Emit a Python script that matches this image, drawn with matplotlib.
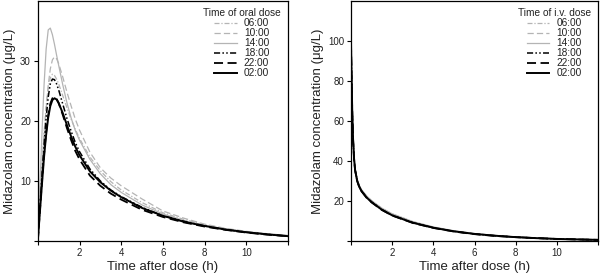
import matplotlib
matplotlib.use("Agg")
import matplotlib.pyplot as plt

plt.rcParams['font.family'] = ['Liberation Sans', 'DejaVu Sans']

# time points (h)
t_oral = [0, 0.1, 0.2, 0.3, 0.4, 0.5, 0.6, 0.7, 0.8, 0.9, 1.0, 1.2, 1.4, 1.6, 1.8,
          2.0, 2.5, 3.0, 3.5, 4.0, 5, 6, 7, 8, 9, 10, 11, 12]

oral_0600 = [0, 6.5, 12.5, 18, 22.5, 25.5, 27.2, 27.8, 27.6, 27.0, 26.2, 24.2, 22.2, 20.3, 18.6,
             17.1, 14.0, 11.7, 9.9, 8.5, 6.4, 4.7, 3.6, 2.7, 2.0, 1.55, 1.15, 0.85]
oral_1000 = [0, 6, 12, 17.5, 22, 26, 28.7, 30.2, 30.7, 30.4, 29.6, 27.3, 24.8, 22.5, 20.3,
             18.5, 14.8, 12.2, 10.5, 9.2, 7.0, 5.0, 3.8, 2.8, 2.1, 1.6, 1.2, 0.9]
oral_1400 = [0, 9, 18, 26, 32, 35.2, 35.5, 34.4, 32.8, 31.0, 29.3, 26.0, 23.0, 20.5, 18.4,
             16.8, 13.6, 11.2, 9.4, 8.1, 6.0, 4.5, 3.4, 2.6, 2.0, 1.55, 1.2, 0.9]
oral_1800 = [0, 5.5, 11, 16, 20.5, 24, 26.2, 27.0, 26.9, 26.2, 25.2, 22.8, 20.4, 18.3, 16.4,
             14.9, 12.0, 10.0, 8.5, 7.4, 5.6, 4.2, 3.3, 2.5, 1.9, 1.45, 1.1, 0.8]
oral_2200 = [0, 5, 10, 14.5, 18.2, 21, 22.9, 23.8, 24.0, 23.7, 23.0, 21.0, 18.8, 16.8, 15.0,
             13.6, 10.9, 9.2, 7.9, 6.9, 5.2, 4.0, 3.1, 2.4, 1.85, 1.4, 1.05, 0.8]
oral_0200 = [0, 4.8, 9.5, 14, 17.7, 20.6, 22.5, 23.5, 23.8, 23.6, 23.0, 21.3, 19.3, 17.4, 15.7,
             14.3, 11.6, 9.8, 8.4, 7.3, 5.5, 4.2, 3.2, 2.5, 1.9, 1.45, 1.1, 0.8]

t_iv = [0, 0.03, 0.06, 0.1, 0.15, 0.2, 0.3, 0.4, 0.5, 0.75, 1.0, 1.5, 2, 3, 4, 5, 6, 7, 8, 9, 10, 11, 12]

iv_0600 = [99, 82, 66, 52, 42, 36, 30.5, 27.5, 25.5, 22.2, 19.8, 16.0, 13.2, 9.4, 6.8, 4.9, 3.6, 2.7, 2.0, 1.5, 1.1, 0.8, 0.6]
iv_1000 = [99, 82, 66, 52, 42, 36, 30.8, 27.8, 25.8, 22.5, 20.1, 16.3, 13.5, 9.6, 6.9, 5.0, 3.7, 2.7, 2.0, 1.5, 1.1, 0.8, 0.6]
iv_1400 = [99, 82, 66, 52, 42, 36, 30.8, 27.8, 25.9, 22.6, 20.2, 16.4, 13.6, 9.7, 7.0, 5.1, 3.7, 2.8, 2.0, 1.5, 1.1, 0.8, 0.6]
iv_1800 = [99, 81, 65, 51, 41, 35.5, 30.2, 27.2, 25.2, 21.9, 19.5, 15.7, 12.9, 9.2, 6.6, 4.8, 3.5, 2.6, 1.9, 1.4, 1.0, 0.75, 0.55]
iv_2200 = [99, 81, 65, 51, 41, 35.3, 30.0, 27.0, 25.0, 21.7, 19.3, 15.5, 12.7, 9.0, 6.5, 4.7, 3.4, 2.5, 1.9, 1.4, 1.0, 0.75, 0.55]
iv_0200 = [99, 81, 65, 51, 41, 35.4, 30.1, 27.1, 25.1, 21.8, 19.4, 15.6, 12.8, 9.1, 6.6, 4.8, 3.5, 2.6, 1.9, 1.4, 1.0, 0.75, 0.55]

labels = ['06:00', '10:00', '14:00', '18:00', '22:00', '02:00']
oral = [oral_0600, oral_1000, oral_1400, oral_1800, oral_2200, oral_0200]
iv = [iv_0600, iv_1000, iv_1400, iv_1800, iv_2200, iv_0200]

styles = [
    dict(color='#b4b4b4', lw=0.9, ls=(0, (4, 1.5, 1, 1.5))),
    dict(color='#b4b4b4', lw=0.9, ls=(0, (5, 2.5))),
    dict(color='#b4b4b4', lw=0.9, ls='-'),
    dict(color='black', lw=1.1, ls=(0, (4, 1.5, 1, 1.5, 1, 1.5))),
    dict(color='black', lw=1.3, ls=(0, (5, 2.5))),
    dict(color='black', lw=1.4, ls='-'),
]

fig = plt.figure(figsize=(6, 2.76), dpi=100)
ax1 = fig.add_axes([0.063, 0.127, 0.417, 0.869])
ax2 = fig.add_axes([0.585, 0.127, 0.412, 0.869])

txt = '#222222'


def setup(ax, ylim, yticks, legend_title):
    ax.set_xlim(0, 12)
    ax.set_ylim(*ylim)
    ax.set_xticks([0, 2, 4, 6, 8, 10, 12])
    ax.set_xticklabels(['', '2', '4', '6', '8', '10', ''])
    ax.set_yticks(yticks)
    ax.set_yticklabels([''] + [str(v) for v in yticks[1:]])
    ax.tick_params(direction='out', length=3, width=0.8, labelsize=7, colors='black',
                   labelcolor=txt, pad=2)
    for s in ax.spines.values():
        s.set_linewidth(0.9)
    ax.set_xlabel('Time after dose (h)', fontsize=9.5, color=txt, labelpad=2)
    ax.set_ylabel('Midazolam concentration (\u03bcg/L)', fontsize=9.5, color=txt, labelpad=3)
    leg = ax.legend(title=legend_title, loc='upper right', frameon=False, fontsize=7.3,
                    title_fontsize=7.3, handlelength=2.2, labelspacing=0.0,
                    handletextpad=0.7, borderaxespad=0.2, bbox_to_anchor=(0.995, 0.995))
    for tx in leg.get_texts():
        tx.set_color(txt)
    leg.get_title().set_color(txt)


for vals, lab, st in zip(oral, labels, styles):
    ax1.plot(t_oral, vals, label=lab, **st)
for vals, lab, st in zip(iv, labels, styles):
    ax2.plot(t_iv, vals, label=lab, **st)

setup(ax1, (0, 40), [0, 10, 20, 30], 'Time of oral dose')
setup(ax2, (0, 120), [0, 20, 40, 60, 80, 100], 'Time of i.v. dose')

fig.savefig('out.png', dpi=100)
